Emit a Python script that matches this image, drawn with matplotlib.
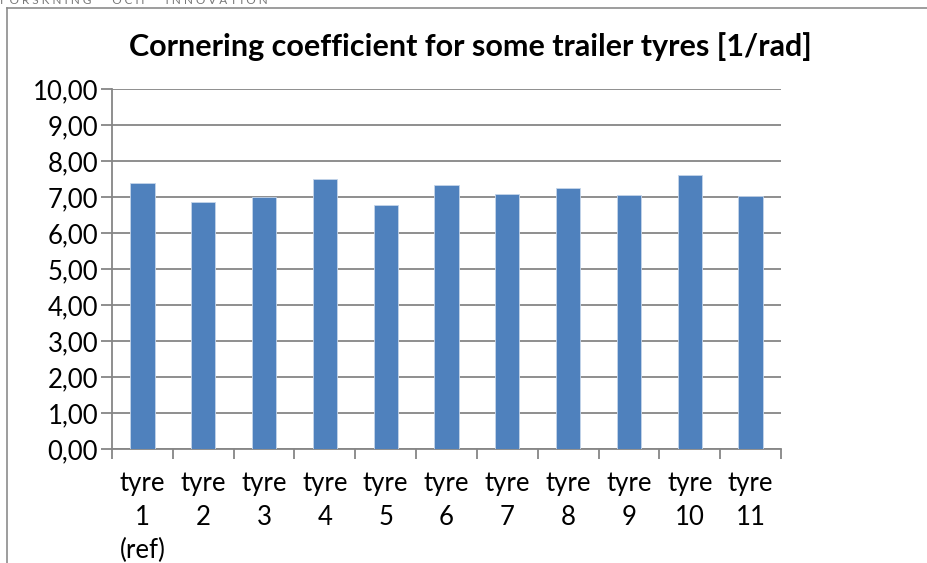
import matplotlib
matplotlib.use("Agg")
import matplotlib.pyplot as plt
from matplotlib.lines import Line2D
import numpy as np

categories = ["tyre\n1\n(ref)", "tyre\n2", "tyre\n3", "tyre\n4", "tyre\n5", "tyre\n6",
              "tyre\n7", "tyre\n8", "tyre\n9", "tyre\n10", "tyre\n11"]
values = [7.38, 6.86, 6.99, 7.51, 6.78, 7.33, 7.09, 7.25, 7.06, 7.61, 7.04]
yticks = [0, 1, 2, 3, 4, 5, 6, 7, 8, 9, 10]
ytick_labels = ["0,00", "1,00", "2,00", "3,00", "4,00", "5,00", "6,00", "7,00", "8,00", "9,00", "10,00"]
title = "Cornering coefficient for some trailer tyres [1/rad]"
header = "FORSKNING OCH INNOVATION"

plt.rcParams['font.family'] = ['Lato', 'DejaVu Sans']

W, H = 927, 563
fig = plt.figure(figsize=(W / 100, H / 100), dpi=100)
ax = fig.add_axes([112 / W, 1 - 449 / H, (781 - 112) / W, (449 - 89) / H])

grid_c = "#868686"
x = np.arange(len(values))
ax.bar(x, values, width=0.4, color="#4F81BD", edgecolor="#C5D5EA", linewidth=0.6, zorder=3)

ax.set_xlim(-0.5, len(values) - 0.5)
ax.set_ylim(0, 10)
ax.set_yticks(yticks)
ax.set_yticklabels(ytick_labels, fontsize=18.5)
ax.yaxis.grid(True, color=grid_c, linewidth=1.3, zorder=0)
ax.set_axisbelow(True)

ax.set_xticks(x)
ax.set_xticklabels(categories, fontsize=18.5, linespacing=1.42, va="top")
ax.set_xticks(np.arange(-0.5, len(values)), minor=True)
ax.tick_params(axis="x", which="major", length=0, pad=16)
ax.tick_params(axis="x", which="minor", length=7, width=1.3, color=grid_c, direction="out")
ax.tick_params(axis="y", length=8, width=1.3, color=grid_c, direction="out", pad=2)

for s in ["top", "right"]:
    ax.spines[s].set_visible(False)
for s in ["left", "bottom"]:
    ax.spines[s].set_color(grid_c)
    ax.spines[s].set_linewidth(1.3)

fig.text(470 / W, 1 - 47 / H, title, fontsize=22, fontweight="bold", ha="center", va="center")

# outer chart frame (partly visible)
fig.add_artist(Line2D([7.5 / W, 7.5 / W], [0, 1 - 8 / H], color="#8C8C8C", linewidth=1.2))
fig.add_artist(Line2D([7.5 / W, 1], [1 - 8 / H, 1 - 8 / H], color="#8C8C8C", linewidth=1.2))

# clipped header text above the frame
fig.text(0.0, 1 - 4 / H, "   ".join(header.split(" ")).replace("", " ").strip(),
         fontsize=8.5, color="#777777", ha="left", va="baseline")

fig.savefig("out.png", dpi=100)
